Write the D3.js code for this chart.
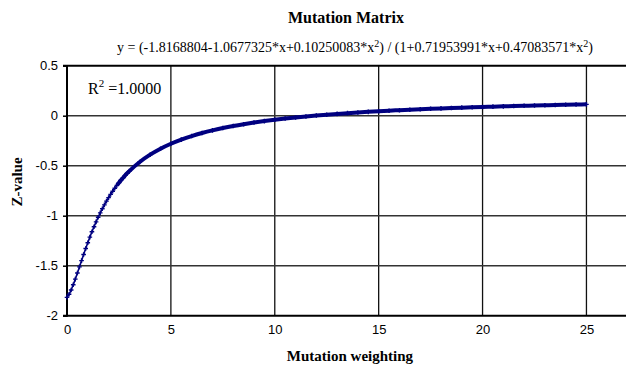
<!DOCTYPE html>
<html><head><meta charset="utf-8">
<script src="https://cdn.jsdelivr.net/npm/d3@7"></script>
<style>body{margin:0;background:#fff}svg{display:block}</style>
</head><body>
<svg id="c" width="626" height="370"></svg>
<script>
const xValues = [0,0.1,0.2,0.3,0.4,0.5,0.6,0.7,0.8,0.9,1.0,1.1,1.2,1.3,1.4,1.5,1.6,1.7,1.8,1.9,2.0,2.1,2.2,2.3,2.4,2.5,2.6,2.7,2.8,2.9,3.0,
  3.5,4,4.5,5,5.5,6,6.5,7,7.5,8,8.5,9,9.5,10,10.5,11,11.5,12,12.5,13,13.5,14,14.5,15,15.5,16,16.5,17,17.5,18,18.5,19,19.5,20,20.5,21,21.5,22,22.5,23,23.5,24,24.5,25];
const zValues = [-1.8169,-1.7857,-1.7427,-1.6912,-1.6341,-1.5737,-1.5117,-1.4495,-1.3881,-1.3282,-1.2702,-1.2144,-1.1610,-1.1101,-1.0616,-1.0157,-0.9721,-0.9308,-0.8916,-0.8546,-0.8195,-0.7863,-0.7548,-0.7250,-0.6967,-0.6698,-0.6443,-0.6200,-0.5969,-0.5749,-0.5540,
  -0.4629,-0.3898,-0.3301,-0.2806,-0.2390,-0.2036,-0.1731,-0.1466,-0.1235,-0.1030,-0.0848,-0.0685,-0.0538,-0.0406,-0.0286,-0.0176,-0.0075,0.0017,0.0102,0.0181,0.0254,0.0322,0.0385,0.0444,0.0500,0.0552,0.0601,0.0647,0.0690,0.0731,0.0770,0.0807,0.0842,0.0875,0.0907,0.0937,0.0966,0.0993,0.1019,0.1044,0.1069,0.1092,0.1114,0.1135];
const xTicks = [0,5,10,15,20,25];
const yTicks = [0.5,0,-0.5,-1,-1.5,-2];
const titleText = "Mutation Matrix";
const xLabel = "Mutation weighting";
const yLabel = "Z-value";

const data = xValues.map((x,i)=>({x, y:zValues[i]}));
const svg = d3.select("#c");
const L=67, R=628, T=65.7, B=315.7;
const x = d3.scaleLinear().domain([0,27]).range([L,R]);
const y = d3.scaleLinear().domain([-2,0.5]).range([B,T]);
const serif = "'Liberation Serif','Times New Roman',serif";
const sans = "'Liberation Sans',Arial,sans-serif";

// grid
svg.append("g").selectAll("line").data(xTicks.filter(d=>d>0)).join("line")
  .attr("x1",d=>x(d)).attr("x2",d=>x(d)).attr("y1",T).attr("y2",B)
  .attr("stroke","#111").attr("stroke-width",1.3);
svg.append("g").selectAll("line").data(yTicks.filter(d=>d>-2 && d<0.5)).join("line")
  .attr("x1",L).attr("x2",626).attr("y1",d=>y(d)).attr("y2",d=>y(d))
  .attr("stroke","#333").attr("stroke-width",1.5);
// frame
svg.append("line").attr("x1",L-4).attr("x2",626).attr("y1",T).attr("y2",T).attr("stroke","#000").attr("stroke-width",2);
svg.append("line").attr("x1",L-4).attr("x2",626).attr("y1",B).attr("y2",B).attr("stroke","#000").attr("stroke-width",2);
svg.append("line").attr("x1",L).attr("x2",L).attr("y1",T).attr("y2",B+1).attr("stroke","#000").attr("stroke-width",2);

// axes labels
const yAxis = d3.axisLeft(y).tickValues(yTicks).tickSize(4).tickFormat(d=>d===0?"0":String(d));
const gy = svg.append("g").attr("transform",`translate(${L},0)`).call(yAxis);
gy.select(".domain").remove();
gy.selectAll(".tick line").attr("stroke","#000").attr("stroke-width",1.5);
gy.selectAll("text").attr("font-family",sans).attr("font-size",13).attr("fill","#000").attr("x",-9);
const xAxis = d3.axisBottom(x).tickValues(xTicks).tickSize(0).tickFormat(d3.format("d"));
const gx = svg.append("g").attr("transform",`translate(0,${B})`).call(xAxis);
gx.select(".domain").remove();
gx.selectAll("text").attr("font-family",sans).attr("font-size",13).attr("fill","#000").attr("dy","1.15em");

// curve
const line = d3.line().x(d=>x(d.x)).y(d=>y(d.y)).curve(d3.curveMonotoneX);
svg.append("path").datum(data).attr("d",line).attr("fill","none").attr("stroke","#000080").attr("stroke-width",1.6);
svg.append("path").datum(data.filter(d=>d.x>=2.4)).attr("d",line).attr("fill","none").attr("stroke","#000080").attr("stroke-width",4);
const m = svg.append("g").attr("stroke","#000080").attr("stroke-width",1.4);
m.selectAll("path").data(data).join("path")
  .attr("d",d=>{const cx=x(d.x), cy=y(d.y); return `M${cx-2.3},${cy}H${cx+2.3}M${cx},${cy-2.3}V${cy+2.3}`;});

// texts
svg.append("text").attr("x",346).attr("y",23).attr("text-anchor","middle").attr("font-family",serif)
  .attr("font-weight","bold").attr("font-size",16).text(titleText);
const eq = svg.append("text").attr("x",355).attr("y",52).attr("text-anchor","middle").attr("font-family",serif).attr("font-size",14);
eq.append("tspan").text("y = (-1.8168804-1.0677325*x+0.10250083*x");
eq.append("tspan").attr("dy",-5).attr("font-size",10).text("2");
eq.append("tspan").attr("dy",5).text(") / (1+0.71953991*x+0.47083571*x");
eq.append("tspan").attr("dy",-5).attr("font-size",10).text("2");
eq.append("tspan").attr("dy",5).text(")");
const r2 = svg.append("text").attr("x",88).attr("y",94).attr("font-family",serif).attr("font-size",16);
r2.append("tspan").text("R");
r2.append("tspan").attr("dy",-7).attr("font-size",11).text("2");
r2.append("tspan").attr("dy",7).text(" =1.0000");
svg.append("text").attr("transform","translate(22,182) rotate(-90)").attr("text-anchor","middle")
  .attr("font-family",serif).attr("font-weight","bold").attr("font-size",15).text(yLabel);
svg.append("text").attr("x",350).attr("y",361).attr("text-anchor","middle").attr("font-family",serif)
  .attr("font-weight","bold").attr("font-size",15).text(xLabel);
</script>
</body></html>
